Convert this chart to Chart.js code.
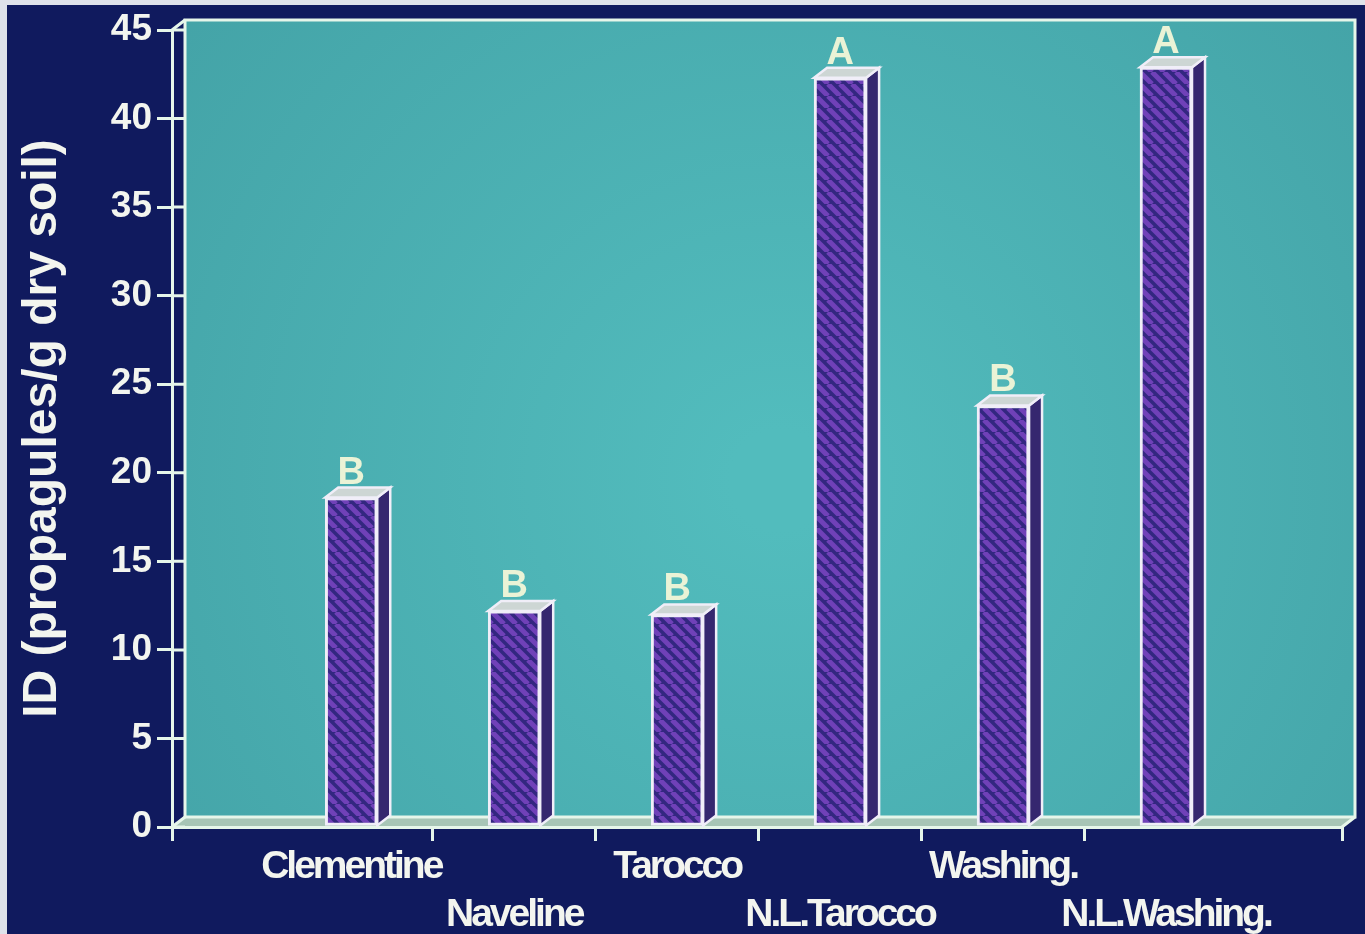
<!DOCTYPE html>
<html>
<head>
<meta charset="utf-8">
<script src="https://cdn.jsdelivr.net/npm/chart.js@4.4.1/dist/chart.umd.min.js"></script>
<style>
  html, body { margin: 0; padding: 0; background: #101a5e; }
  canvas { display: block; }
</style>
</head>
<body>
<canvas id="chart" width="1365" height="934"></canvas>
<script>
// Inoculum density per citrus rootstock / soil
const categories = ['Clementine', 'Naveline', 'Tarocco', 'N.L.Tarocco', 'Washing.', 'N.L.Washing.'];
const idValues = [18.6, 12.2, 12.0, 42.3, 23.8, 42.9];
const groupLetters = ['B', 'B', 'B', 'A', 'B', 'A'];
const yTickValues = [0, 5, 10, 15, 20, 25, 30, 35, 40, 45];
const xTickValues = [-1.1, 0, 0.5, 1, 1.5, 2, 2.5, 3, 3.5, 4, 4.5, 5, 6.08];

const NAVY = '#101a5e';
const LINE = '#e6f6ea';
const TEXT = '#f3f5ef';
const DX = 13, DY = -10;   // depth offset of the pseudo-3D frame and bars

function hatchPattern() {
  const s = 12;
  const c = document.createElement('canvas');
  c.width = s; c.height = s;
  const g = c.getContext('2d');
  g.fillStyle = '#332780';
  g.fillRect(0, 0, s, s);
  g.strokeStyle = '#7041b8';
  g.lineWidth = 5;
  g.beginPath();
  for (let k = -1; k <= 1; k++) {
    g.moveTo(k * s, 0);
    g.lineTo(k * s + s, s);
  }
  g.stroke();
  return g.createPattern(c, 'repeat');
}

const ctx = document.getElementById('chart').getContext('2d');

// Background, back wall and floor of the 3D frame
const framePlugin = {
  id: 'frame',
  afterUpdate(chart) {
    // tighter tracking for the category names
    const xs = chart.scales.x;
    const proto = Object.getPrototypeOf(xs);
    xs.drawLabels = function (area) {
      const c = this.ctx;
      c.save();
      c.letterSpacing = '-3px';
      proto.drawLabels.call(this, area);
      c.restore();
    };
  },
  beforeDraw(chart) {
    const c = chart.ctx;
    const a = chart.chartArea;
    c.save();
    c.fillStyle = NAVY;
    c.fillRect(0, 0, chart.width, chart.height);
    c.fillStyle = '#dfe2ea';
    c.fillRect(0, 0, chart.width, 5);
    c.fillRect(0, 0, 7, chart.height);

    const wl = a.left + DX, wr = a.right + DX, wt = a.top + DY, wb = a.bottom + DY;
    const grad = c.createRadialGradient(780, 480, 50, 780, 480, 800);
    grad.addColorStop(0, '#52bcbd');
    grad.addColorStop(1, '#43a2a6');
    c.fillStyle = grad;
    c.fillRect(wl, wt, wr - wl, wb - wt);

    // floor strip
    c.beginPath();
    c.moveTo(a.left, a.bottom);
    c.lineTo(a.right, a.bottom);
    c.lineTo(wr, wb);
    c.lineTo(wl, wb);
    c.closePath();
    c.fillStyle = '#a7c5b6';
    c.fill();

    c.strokeStyle = LINE;
    c.lineWidth = 3;
    c.strokeRect(wl, wt, wr - wl, wb - wt);
    c.beginPath();
    c.moveTo(a.left, a.top); c.lineTo(wl, wt);
    c.moveTo(a.left, a.bottom); c.lineTo(wl, wb);
    c.moveTo(a.right, a.bottom); c.lineTo(wr, wb);
    c.stroke();
    c.restore();
  },
  beforeDatasetsDraw(chart) {
    const c = chart.ctx;
    const a = chart.chartArea;
    const ys = chart.scales.y;
    c.save();
    // tick stubs running from the axis into the back wall
    c.strokeStyle = LINE;
    c.lineWidth = 3;
    c.beginPath();
    yTickValues.forEach(v => {
      const py = ys.getPixelForValue(v);
      c.moveTo(a.left, py);
      c.lineTo(a.left + DX, py);
    });
    c.stroke();

    // side and top faces of every bar
    const meta = chart.getDatasetMeta(0);
    meta.data.forEach(bar => {
      const p = bar.getProps(['x', 'y', 'base', 'width'], true);
      const x0 = p.x - p.width / 2, x1 = p.x + p.width / 2;
      c.lineWidth = 2.5;
      c.strokeStyle = '#f0eef8';
      c.beginPath();
      c.moveTo(x1, p.y);
      c.lineTo(x1 + DX, p.y + DY);
      c.lineTo(x1 + DX, p.base + DY);
      c.lineTo(x1, p.base);
      c.closePath();
      c.fillStyle = '#35276f';
      c.fill();
      c.stroke();
      c.beginPath();
      c.moveTo(x0, p.y);
      c.lineTo(x0 + DX, p.y + DY);
      c.lineTo(x1 + DX, p.y + DY);
      c.lineTo(x1, p.y);
      c.closePath();
      c.fillStyle = '#cdd6d4';
      c.fill();
      c.stroke();
    });
    c.restore();
  },
  afterDatasetsDraw(chart) {
    const c = chart.ctx;
    const meta = chart.getDatasetMeta(0);
    c.save();
    c.fillStyle = '#eaf3d6';
    c.font = 'bold 38px "Liberation Sans", sans-serif';
    c.textAlign = 'center';
    c.textBaseline = 'alphabetic';
    meta.data.forEach((bar, i) => {
      const p = bar.getProps(['x', 'y'], true);
      c.fillText(groupLetters[i], p.x, p.y - 14);
    });
    c.restore();
  }
};

new Chart(ctx, {
  type: 'bar',
  data: {
    datasets: [{
      data: idValues.map((v, i) => ({ x: i, y: v })),
      backgroundColor: hatchPattern(),
      borderColor: '#f0eef8',
      borderWidth: 3,
      borderSkipped: false,
      barThickness: 52
    }]
  },
  options: {
    responsive: false,
    devicePixelRatio: 1,
    animation: false,
    layout: { padding: { top: 30, right: 23, left: 0, bottom: 0 } },
    plugins: { legend: { display: false }, tooltip: { enabled: false } },
    scales: {
      x: {
        type: 'linear',
        offset: false,
        min: -1.1,
        max: 6.08,
        afterBuildTicks: s => { s.ticks = xTickValues.map(v => ({ value: v })); },
        afterFit: s => { s.height = 107; },
        ticks: {
          autoSkip: false,
          maxRotation: 0,
          minRotation: 0,
          padding: 2,
          color: TEXT,
          font: { family: '"Liberation Sans", sans-serif', weight: 'bold', size: 39, lineHeight: 1.23 },
          callback: v => {
            if (!Number.isInteger(v) || v < 0 || v >= categories.length) return '';
            return v % 2 === 0 ? [categories[v], ''] : ['', categories[v]];
          }
        },
        grid: {
          offset: false,
          drawOnChartArea: false,
          tickLength: 14,
          lineWidth: 3,
          tickColor: c => (c.tick && Number.isInteger(c.tick.value)) ? 'rgba(0,0,0,0)' : LINE
        },
        border: { display: true, color: LINE, width: 3 }
      },
      y: {
        min: 0,
        max: 45,
        afterBuildTicks: s => { s.ticks = yTickValues.map(v => ({ value: v })); },
        afterFit: s => { s.width = 172; },
        ticks: {
          padding: 5,
          color: TEXT,
          font: { family: '"Liberation Sans", sans-serif', weight: 'bold', size: 37 }
        },
        grid: { drawOnChartArea: false, tickLength: 15, lineWidth: 3, color: LINE },
        border: { display: true, color: LINE, width: 3 },
        title: {
          display: true,
          text: 'ID (propagules/g dry soil)',
          color: TEXT,
          font: { family: '"Liberation Sans", sans-serif', weight: 'bold', size: 48 },
          padding: { top: 14, bottom: 0 }
        }
      }
    }
  },
  plugins: [framePlugin]
});
</script>
</body>
</html>
